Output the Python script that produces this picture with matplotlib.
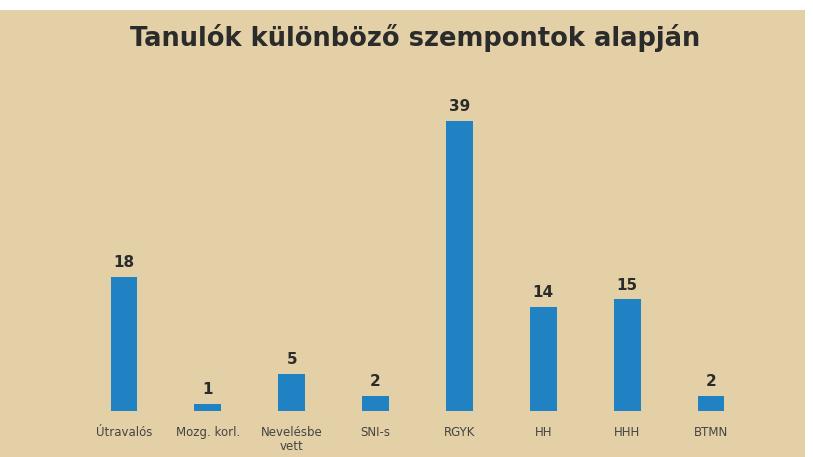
import matplotlib
matplotlib.use("Agg")
import matplotlib.pyplot as plt
from matplotlib.patches import Rectangle

categories = ["Útravalós", "Mozg. korl.", "Nevelésbe\nvett", "SNI-s", "RGYK", "HH", "HHH", "BTMN"]
values = [18, 1, 5, 2, 39, 14, 15, 2]

W, H = 813, 457
fig = plt.figure(figsize=(W/100, H/100), dpi=100, facecolor="white")
bg = "#E3D0A6"
fig.patches.append(Rectangle((0, 0), 805/W, (H-10)/H, transform=fig.transFigure,
                             facecolor=bg, edgecolor="none", zorder=-10))

ax = fig.add_axes([82/W, (H-411)/H, (753-82)/W, 311/H])
ax.set_zorder(1)
ax.set_facecolor("none")
x = range(len(categories))
ax.bar(x, values, width=0.32, color="#2182C3", zorder=2)
ax.set_xlim(-0.5, len(categories)-0.5)
ax.set_ylim(0, 311/7.44)
for xi, v in zip(x, values):
    ax.text(xi, v + 0.9, str(v), ha="center", va="bottom", fontsize=11,
            fontweight="bold", color="#2b2b2b", family="DejaVu Sans")
ax.set_xticks(list(x))
ax.set_xticklabels(categories, fontsize=8.5, color="#444444", family="DejaVu Sans",
                   linespacing=1.1, va="top")
ax.tick_params(axis="x", length=0, pad=11)
ax.set_yticks([])
for s in ax.spines.values():
    s.set_visible(False)

fig.text(415/W, 1-38/H, "Tanulók különböző szempontok alapján", ha="center", va="center",
         fontsize=18.5, fontweight="heavy", color="#2b2b2b", family="DejaVu Sans", zorder=5)

fig.savefig("out.png", dpi=100, facecolor="white")
